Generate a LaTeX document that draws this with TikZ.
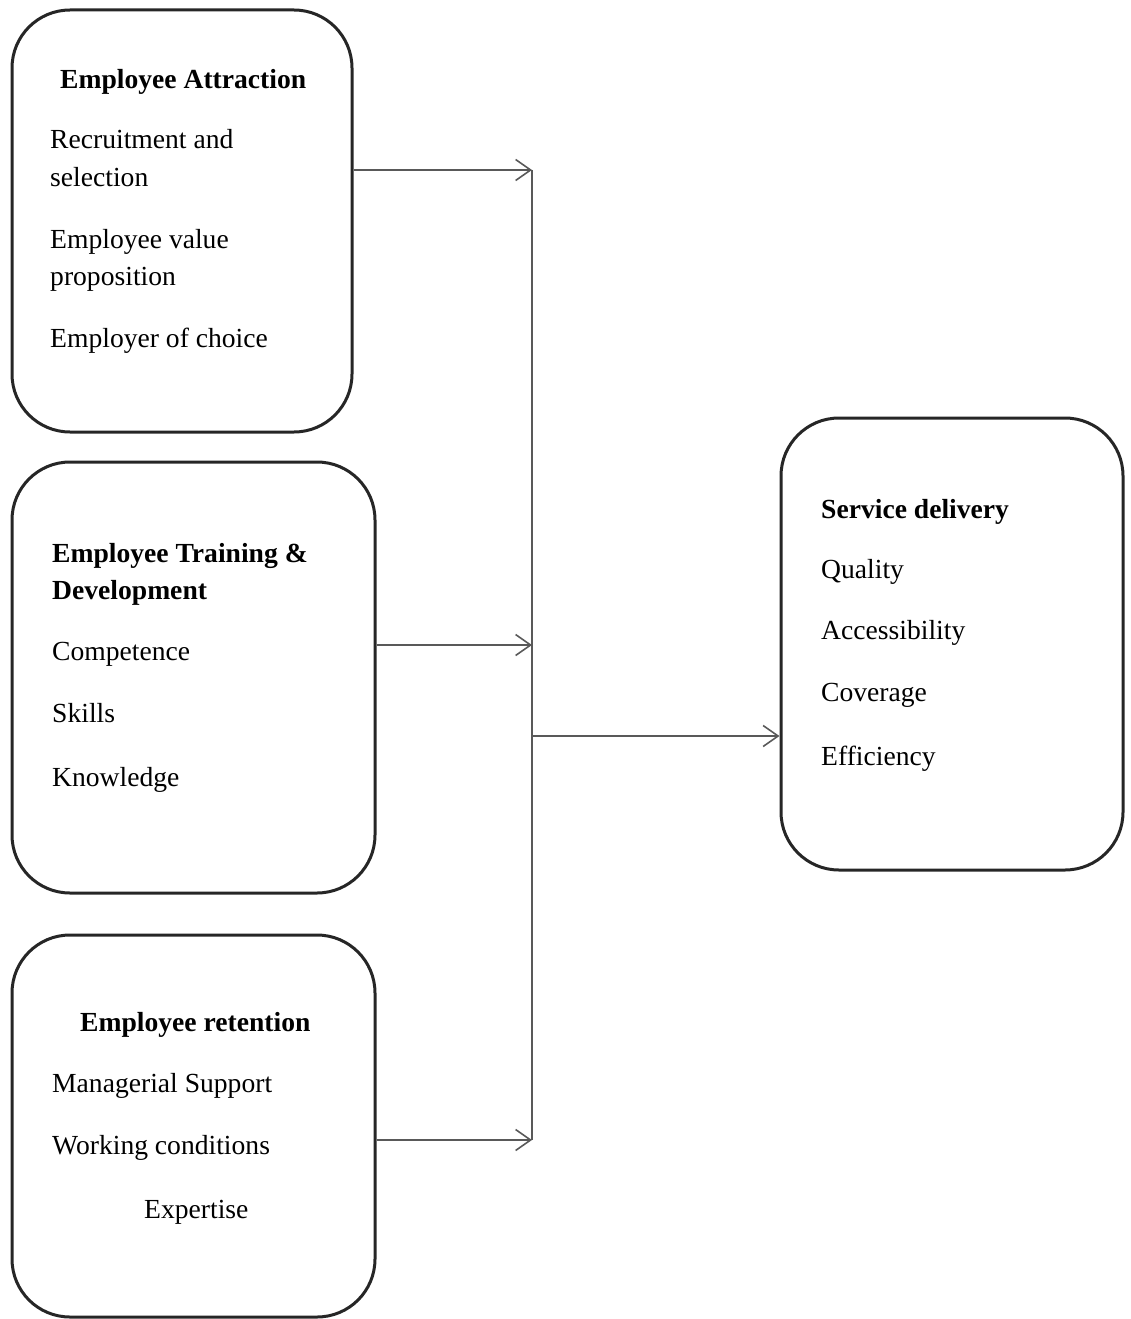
\documentclass[tikz,border=0pt]{standalone}
\usepackage{fontspec}
\setmainfont{Liberation Serif}
\usetikzlibrary{arrows.meta,positioning}

\tikzset{
	panel/.style={draw=black!85, line width=3pt, rounded corners=58pt, inner sep=0pt},
	item/.style={anchor=base west, inner sep=0pt, font=\fontsize{27.6}{37}\selectfont},
	head/.style={item, font=\fontsize{27.6}{37}\selectfont\bfseries},
	feed/.style={draw=black!65, line width=1.3pt, -{Straight Barb[length=15pt,width=21pt,line width=1.6pt]}},
	trunk/.style={draw=black!65, line width=1.3pt}
}

\begin{document}
\begin{tikzpicture}[x=1pt,y=-1pt]
	\useasboundingbox (0,0) rectangle (1130,1319);

	\node[panel, minimum width=340pt, minimum height=422pt] (attraction) at (182,221) {};
	\node[panel, minimum width=363pt, minimum height=431pt] (training) at (193.5,677.5) {};
	\node[panel, minimum width=363pt, minimum height=382pt] (retention) at (193.5,1126) {};
	\node[panel, minimum width=342pt, minimum height=452pt] (delivery) at (952,644) {};

	\node[head] (attrhead) at (60,89) {Employee Attraction};
	\node[item] (recruit) at (50,149) {Recruitment and};
	\node[item] (select) at (50,186) {selection};
	\node[item] (evp) at (50,248) {Employee value};
	\node[item] (prop) at (50,285) {proposition};
	\node[item] (choice) at (50,347) {Employer of choice};

	\node[head] (trainhead) at (52,562) {Employee Training \&};
	\node[head] (devhead) at (52,599) {Development};
	\node[item] (compet) at (52,660) {Competence};
	\node[item] (skills) at (52,722) {Skills};
	\node[item] (know) at (52,786) {Knowledge};

	\node[head] (rethead) at (80,1031) {Employee retention};
	\node[item] (support) at (52,1092) {Managerial Support};
	\node[item] (conditions) at (52,1154) {Working conditions};
	\node[item] (expert) at (144,1218) {Expertise};

	\node[head] (delhead) at (821,518) {Service delivery};
	\node[item] (quality) at (821,578) {Quality};
	\node[item] (access) at (821,639) {Accessibility};
	\node[item] (cover) at (821,701) {Coverage};
	\node[item] (effic) at (821,765) {Efficiency};

	% joins on the trunk line
	\coordinate (inA) at (532,170);
	\coordinate (inB) at (532,645);
	\coordinate (inC) at (532,1140);
	\coordinate (split) at (532,736);

	\draw[trunk] (inA) -- (inC);
	\draw[feed] (attraction.east |- inA) -- (inA);
	\draw[feed] (training.east |- inB) -- (inB);
	\draw[feed] (retention.east |- inC) -- (inC);
	\draw[feed] (split) -- (delivery.west |- split);
\end{tikzpicture}
\end{document}
